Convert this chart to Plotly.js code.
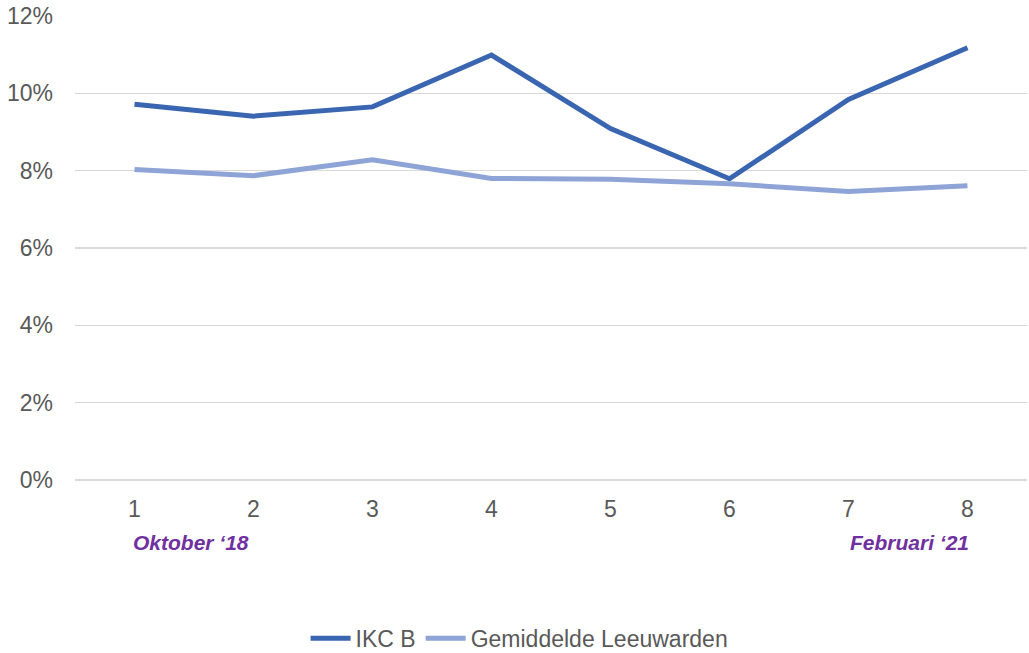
<!DOCTYPE html>
<html>
<head>
<meta charset="utf-8">
<script src="https://cdn.plot.ly/plotly-3.0.1.min.js"></script>
<style>html,body{margin:0;padding:0;background:#fff;}#chart{width:1029px;height:653px;}</style>
</head>
<body>
<div id="chart"></div>
<script>
const categories = ["1","2","3","4","5","6","7","8"];
const ikcB = [9.72, 9.41, 9.65, 10.99, 9.09, 7.79, 9.84, 11.18];
const gemiddelde = [8.03, 7.87, 8.28, 7.80, 7.78, 7.66, 7.46, 7.61];
const seriesNames = ["IKC B", "Gemiddelde Leeuwarden"];
const startLabel = "Oktober ‘18";
const endLabel = "Februari ‘21";

const data = [
  {x: categories, y: ikcB, name: seriesNames[0], type: 'scatter', mode: 'lines',
   line: {color: '#3A65B0', width: 5}},
  {x: categories, y: gemiddelde, name: seriesNames[1], type: 'scatter', mode: 'lines',
   line: {color: '#8FA4D6', width: 5}}
];
const layout = {
  width: 1029, height: 653,
  margin: {l: 75, r: 2, t: 16, b: 173, autoexpand: false},
  paper_bgcolor: '#fff', plot_bgcolor: '#fff',
  font: {family: 'Liberation Sans, Arial, sans-serif', color: '#595959', size: 23},
  showlegend: true,
  legend: {orientation: 'h', x: 0.467, xanchor: 'center', y: -0.341, yanchor: 'middle',
           font: {size: 23, color: '#595959'}, itemwidth: 40, tracegroupgap: 0},
  xaxis: {type: 'category', range: [-0.5, 7.5], showgrid: false, zeroline: false, showline: false,
          automargin: false,
          ticks: '', tickfont: {size: 23, color: '#595959'}, ticklabelstandoff: 13, fixedrange: true},
  yaxis: {range: [0, 12], dtick: 2, ticksuffix: '%', showgrid: true, gridcolor: '#D9D9D9',
          automargin: false,
          gridwidth: 1.5, zeroline: true, zerolinecolor: '#D9D9D9', zerolinewidth: 1.5,
          showline: false, ticks: '', tickfont: {size: 23, color: '#595959'}, ticklabelstandoff: 21},
  annotations: [
    {text: startLabel, xref: 'paper', yref: 'paper', x: 0.122, y: -0.134, xanchor: 'center', yanchor: 'middle',
     showarrow: false, font: {size: 21, color: '#7030A0', family: 'Liberation Sans, Arial, sans-serif', weight: 'bold', style: 'italic'}},
    {text: endLabel, xref: 'paper', yref: 'paper', x: 0.877, y: -0.134, xanchor: 'center', yanchor: 'middle',
     showarrow: false, font: {size: 21, color: '#7030A0', family: 'Liberation Sans, Arial, sans-serif', weight: 'bold', style: 'italic'}}
  ]
};
Plotly.newPlot('chart', data, layout, {displayModeBar: false, staticPlot: true});
</script>
</body>
</html>
